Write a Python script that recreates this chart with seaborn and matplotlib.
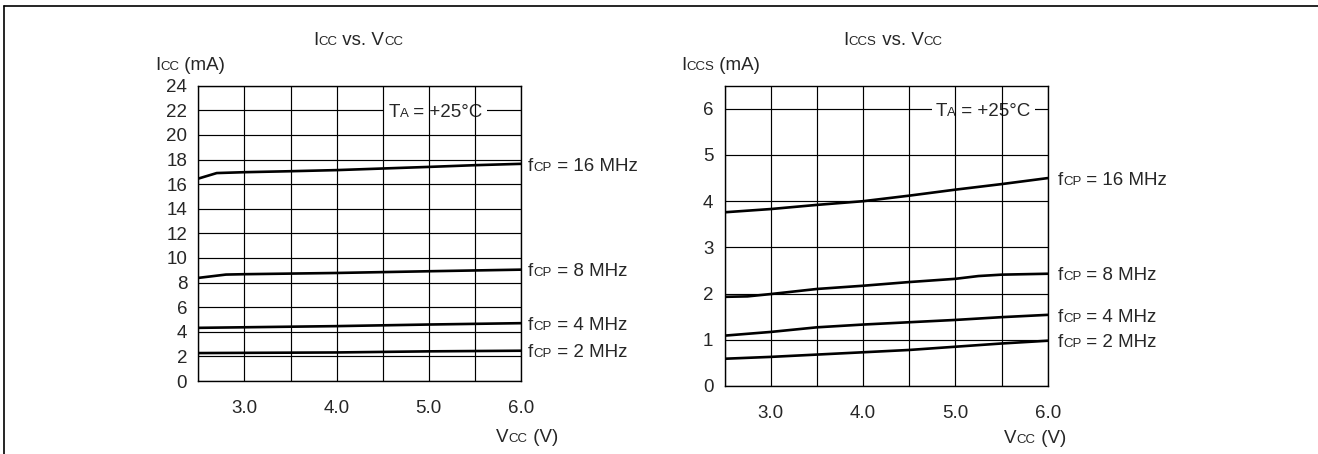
"""Icc / Iccs vs. Vcc datasheet curves"""

import re
import numpy as np
import pandas as pd
import matplotlib
matplotlib.use("Agg")
import matplotlib.pyplot as plt
from matplotlib import font_manager, ft2font
from matplotlib.lines import Line2D
from matplotlib.patches import Rectangle
from matplotlib.transforms import ScaledTranslation
import seaborn as sns

# ---- values ----
FREQS = ["16 MHz", "8 MHz", "4 MHz", "2 MHz"]

# Icc (mA), T_A = +25 C
ICC_16_V = [2.5, 2.7, 3.0, 3.5, 4.0, 4.5, 5.0, 5.5, 6.0]
ICC_16_I = [16.45, 16.9, 16.97, 17.05, 17.14, 17.27, 17.4, 17.54, 17.65]
ICC_8_V = [2.5, 2.8, 3.0, 4.0, 5.0, 6.0]
ICC_8_I = [8.38, 8.65, 8.68, 8.78, 8.92, 9.05]
ICC_4_V = [2.5, 4.0, 5.0, 6.0]
ICC_4_I = [4.32, 4.46, 4.59, 4.70]
ICC_2_V = [2.5, 4.0, 5.0, 6.0]
ICC_2_I = [2.27, 2.32, 2.41, 2.46]

# Iccs (mA)
ICCS_V = [2.5, 3.0, 3.5, 4.0, 4.5, 5.0, 5.5, 6.0]
ICCS_16_I = [3.76, 3.83, 3.92, 4.0, 4.12, 4.25, 4.37, 4.5]
ICCS_8_V = [2.5, 2.75, 3.0, 3.5, 4.0, 4.5, 5.0, 5.25, 5.5, 6.0]
ICCS_8_I = [1.93, 1.94, 1.99, 2.1, 2.17, 2.25, 2.32, 2.38, 2.41, 2.43]
ICCS_4_I = [1.09, 1.17, 1.27, 1.33, 1.38, 1.43, 1.49, 1.54]
ICCS_2_I = [0.59, 0.63, 0.68, 0.73, 0.78, 0.85, 0.92, 0.98]

X_TICKS = [2.5, 3.0, 3.5, 4.0, 4.5, 5.0, 5.5, 6.0]
X_TICKLABELS = ["", "3.0", "", "4.0", "", "5.0", "", "6.0"]
ICC_YTICKS = list(range(0, 25, 2))
ICCS_YTICKS = list(range(0, 7))

W, H, DPI = 1318, 454, 100
BIG, SMALL = 13.5, 9.5

sns.set_style("white")
plt.rcParams["font.family"] = ["Liberation Sans", "DejaVu Sans"]
FONT = font_manager.findfont(font_manager.FontProperties(family="Liberation Sans"))


def advance(s, size):
    f = ft2font.FT2Font(FONT)
    f.set_size(size, 72)
    return sum(f.load_char(ord(c)).linearHoriAdvance / 65536 for c in s)


def split_parts(s):
    # "I_{CC} (mA)" -> [("I", BIG), ("CC", SMALL), (" (mA)", BIG)]
    parts = []
    for big, small in re.findall(r"([^_]*)(?:_\{([^}]*)\})?", s):
        if big:
            parts.append((big, BIG))
        if small:
            parts.append((small, SMALL))
    return parts


def rich_text(ax, s, xy, xycoords, ha="left", dx=0, dy=0, background=False, **kw):
    parts = split_parts(s)
    widths = [advance(t, size) for t, size in parts]
    total = sum(widths)
    x0 = dx - {"left": 0, "center": total / 2, "right": total}[ha]
    if background:
        # white patch hiding the horizontal grid line behind the note
        trans = ax.figure.dpi_scale_trans + ScaledTranslation(xy[0], xy[1], ax.transData)
        ax.add_artist(Rectangle(((x0 - 3) / 72, (dy - 4) / 72), (total + 6) / 72,
                                (0.72 * BIG + 8) / 72, transform=trans,
                                fc="white", ec="none", zorder=0.9))
    for (t, size), w in zip(parts, widths):
        ax.annotate(t, xy, xycoords=xycoords, xytext=(x0, dy), textcoords="offset points",
                    fontsize=size, ha="left", va="baseline", annotation_clip=False, **kw)
        x0 += w


def px(x, y_top):
    return (x, H - y_top)


def frame(series):
    rows = []
    for freq, vs, cs in series:
        rows += [(freq, v, c) for v, c in zip(vs, cs)]
    return pd.DataFrame(rows, columns=["freq", "vcc", "i"])


def panel(ax, df, yticks, ylim, label_dx, ta_xy):
    sns.lineplot(data=df, x="vcc", y="i", hue="freq", palette={f: "black" for f in FREQS},
                 estimator=None, sort=False, legend=False, lw=1.9, ax=ax)
    ax.set_xlim(2.5, 6.0)
    ax.set_ylim(*ylim)
    ax.set_xticks(X_TICKS, X_TICKLABELS)
    ax.set_yticks(yticks)
    ax.set_xlabel("")
    ax.set_ylabel("")
    ax.grid(True, color="black", lw=0.85)
    ax.tick_params(axis="x", length=0, pad=14, labelsize=BIG)
    ax.tick_params(axis="y", length=0, pad=8, labelsize=BIG)
    for sp in ax.spines.values():
        sp.set_color("black")
        sp.set_linewidth(1.0)
    # horizontal grid under the temperature note, vertical grid over it
    ax.yaxis.set_zorder(0.5)
    ax.xaxis.set_zorder(1.5)

    cap_mid = -0.358 * BIG
    for freq, sub in df.groupby("freq", sort=False):
        end = sub.iloc[-1]
        rich_text(ax, "f_{CP} = " + freq, (end["vcc"], end["i"]), "data",
                  dx=label_dx * 0.72, dy=cap_mid)
    rich_text(ax, "T_{A} = +25°C", ta_xy, "data", dy=cap_mid, zorder=1, background=True)


icc = frame([("16 MHz", ICC_16_V, ICC_16_I), ("8 MHz", ICC_8_V, ICC_8_I),
             ("4 MHz", ICC_4_V, ICC_4_I), ("2 MHz", ICC_2_V, ICC_2_I)])
iccs = frame([("16 MHz", ICCS_V, ICCS_16_I), ("8 MHz", ICCS_8_V, ICCS_8_I),
              ("4 MHz", ICCS_V, ICCS_4_I), ("2 MHz", ICCS_V, ICCS_2_I)])

fig = plt.figure(figsize=(W / DPI, H / DPI), dpi=DPI)
ax1 = fig.add_axes([198.3 / W, (H - 381) / H, 322.7 / W, 295.3 / H])
ax2 = fig.add_axes([724.5 / W, (H - 386) / H, 323.2 / W, 300.3 / H])

panel(ax1, icc, ICC_YTICKS, (0, 24), 7, (4.56, 22))
panel(ax2, iccs, ICCS_YTICKS, (0, 6.5), 10, (4.79, 6))

# titles and axis labels
rich_text(ax1, "I_{CC} vs. V_{CC}", px(358, 45), "figure pixels", ha="center")
rich_text(ax2, "I_{CCS} vs. V_{CC}", px(893, 45), "figure pixels", ha="center")
rich_text(ax1, "I_{CC} (mA)", px(155, 70), "figure pixels")
rich_text(ax2, "I_{CCS} (mA)", px(681, 70), "figure pixels")
rich_text(ax1, "V_{CC} (V)", px(527, 442), "figure pixels", ha="center")
rich_text(ax2, "V_{CC} (V)", px(1035, 443), "figure pixels", ha="center")

# page frame (top and left rules)
fig.add_artist(Line2D([4 / W, 1], [1 - 6 / H, 1 - 6 / H], transform=fig.transFigure,
                      color="black", lw=1.2))
fig.add_artist(Line2D([4 / W, 4 / W], [0, 1 - 6 / H], transform=fig.transFigure,
                      color="black", lw=1.2))

fig.savefig("out.png", dpi=DPI, facecolor="white")
